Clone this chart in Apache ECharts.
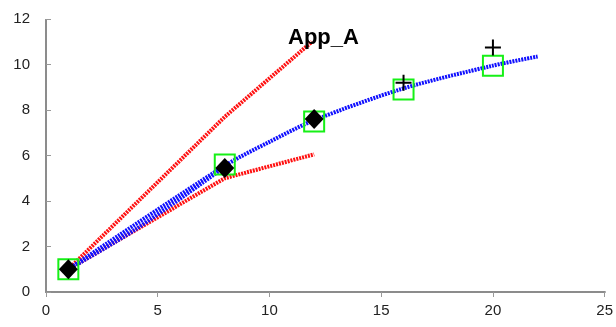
<!DOCTYPE html>
<html>
<head>
<meta charset="utf-8">
<script src="https://cdn.jsdelivr.net/npm/echarts@6/dist/echarts.min.js"></script>
<style>html,body{margin:0;padding:0;background:#fff}#c{width:616px;height:327px}</style>
</head>
<body>
<div id="c"></div>
<script>
// ---- data ----
var titleText = 'App_A';
var xTicks = [0, 5, 10, 15, 20, 25];
var yTicks = [0, 2, 4, 6, 8, 10, 12];
var fitBlueMain = [[1, 1], [8, 5.55], [10, 6.6], [12, 7.55], [16, 8.95], [20, 9.95], [22, 10.35]];
var fitBlueLow = [[1, 1], [4, 2.75], [8, 5.5]];
var redUpper = [[1, 1], [8, 7.7], [11.9, 11.0]];
var redLower = [[1, 1], [8, 5.0], [12, 6.05]];
var squarePts = [[1, 1], [8, 5.6], [12, 7.5], [16, 8.9], [20, 9.95]];
var diamondPts = [[1, 1], [8, 5.45], [12, 7.6]];
var plusPts = [[16, 9.2], [20, 10.75]];

var chart = echarts.init(document.getElementById('c'));
var font = 'Liberation Sans, Arial, sans-serif';
var borderLine = {show: true, lineStyle: {color: '#8c8c8c', width: 2, type: [2, 1]}};
function lineSeries(data, color, smooth) {
  return {
    type: 'line', data: data, symbol: 'none', smooth: smooth ? 0.3 : false, z: 2,
    lineStyle: {color: color, width: 4, type: [2, 1]}, animation: false
  };
}
chart.setOption({
  animation: false,
  grid: {left: 46, right: 10, top: 19, bottom: 35},
  graphic: [{
    type: 'text', left: 288, top: 27, z: 10,
    style: {text: titleText, font: 'bold 22px ' + font, fill: '#000'}
  }],
  xAxis: [{
    type: 'value', min: 0, max: 25, interval: 5,
    axisLine: borderLine,
    axisTick: {show: true, inside: false, length: 5, lineStyle: {color: '#999'}},
    axisLabel: {margin: 11, fontSize: 15, color: '#222', fontFamily: font,
      formatter: function (v) { return xTicks.indexOf(v) >= 0 ? String(v) : ''; }},
    splitLine: {show: false}
  }, {
    type: 'value', position: 'top', min: 0, max: 25, interval: 5,
    axisLine: borderLine, axisTick: {show: false}, axisLabel: {show: false}, splitLine: {show: false}
  }],
  yAxis: [{
    type: 'value', min: 0, max: 12, interval: 2,
    axisLine: borderLine,
    axisTick: {show: true, inside: true, length: 5, lineStyle: {color: '#999'}},
    axisLabel: {margin: 16, fontSize: 15, color: '#222', fontFamily: font,
      formatter: function (v) { return yTicks.indexOf(v) >= 0 ? String(v) : ''; }},
    splitLine: {show: false}
  }, {
    type: 'value', position: 'right', min: 0, max: 12, interval: 2,
    axisLine: borderLine, axisTick: {show: false}, axisLabel: {show: false}, splitLine: {show: false}
  }],
  series: [
    lineSeries(redUpper, '#ff1010', false),
    lineSeries(redLower, '#ff1010', false),
    lineSeries(fitBlueLow, '#1010ff', true),
    lineSeries(fitBlueMain, '#1010ff', true),
    {
      type: 'scatter', data: squarePts, symbol: 'rect', symbolSize: 20, z: 3,
      itemStyle: {color: 'rgba(0,0,0,0)', borderColor: '#16f016', borderWidth: 2, opacity: 1}
    },
    {
      type: 'scatter', data: diamondPts, symbol: 'diamond', symbolSize: [19, 20], z: 4,
      itemStyle: {color: '#000', opacity: 1}
    },
    {
      type: 'scatter', data: plusPts, z: 4,
      symbol: 'path://M7,0h2v7h7v2h-7v7h-2v-7h-7v-2h7z', symbolSize: 16,
      itemStyle: {color: '#000', opacity: 1}
    }
  ]
});
</script>
</body>
</html>
